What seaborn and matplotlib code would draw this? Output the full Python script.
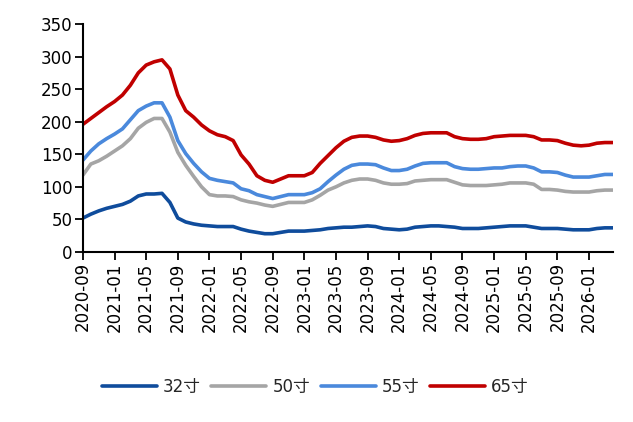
import matplotlib
matplotlib.use("Agg")
import matplotlib.pyplot as plt
import pandas as pd
import seaborn as sns

months = pd.period_range("2020-09", "2026-04", freq="M").strftime("%Y-%m").tolist()

size_32 = [52, 58, 63, 67, 70, 73, 78, 86, 89, 89, 90, 76, 52, 46, 43, 41, 40, 39, 39, 39,
           35, 32, 30, 28, 28, 30, 32, 32, 32, 33, 34, 36, 37, 38, 38, 39, 40, 39, 36, 35,
           34, 35, 38, 39, 40, 40, 39, 38, 36, 36, 36, 37, 38, 39, 40, 40, 40, 38, 36, 36,
           36, 35, 34, 34, 34, 36, 37, 37]
size_50 = [118, 135, 140, 147, 155, 163, 174, 190, 199, 205, 205, 184, 153, 133, 116, 100,
           88, 86, 86, 85, 80, 77, 75, 72, 70, 73, 76, 76, 76, 80, 87, 95, 100, 106, 110,
           112, 112, 110, 106, 104, 104, 105, 109, 110, 111, 111, 111, 107, 103, 102, 102,
           102, 103, 104, 106, 106, 106, 104, 96, 96, 95, 93, 92, 92, 92, 94, 95, 95]
size_55 = [141, 155, 166, 174, 181, 189, 203, 217, 224, 229, 229, 207, 171, 151, 136, 123,
           113, 110, 108, 106, 97, 94, 88, 85, 82, 85, 88, 88, 88, 91, 97, 108, 118, 127,
           133, 135, 135, 134, 129, 125, 125, 127, 132, 136, 137, 137, 137, 131, 128, 127,
           127, 128, 129, 129, 131, 132, 132, 129, 123, 123, 122, 118, 115, 115, 115, 117,
           119, 119]
size_65 = [196, 205, 214, 223, 231, 241, 256, 275, 287, 292, 295, 281, 241, 217, 207, 195,
           186, 180, 177, 171, 149, 135, 117, 110, 107, 112, 117, 117, 117, 122, 136, 148,
           160, 170, 176, 178, 178, 176, 172, 170, 171, 174, 179, 182, 183, 183, 183, 177,
           174, 173, 173, 174, 177, 178, 179, 179, 179, 177, 172, 172, 171, 167, 164, 163,
           164, 167, 168, 168]

series_names = ["32寸", "50寸", "55寸", "65寸"]
colors = ["#0F4C9C", "#A5A5A5", "#4A89DC", "#C00000"]

frames = []
for name, vals in zip(series_names, [size_32, size_50, size_55, size_65]):
    frames.append(pd.DataFrame({"idx": range(len(months)), "value": vals, "series": name}))
df = pd.concat(frames, ignore_index=True)

sns.set_theme(style="white")
plt.rcParams["font.family"] = ["DejaVu Sans", "Noto Sans CJK SC"]

fig = plt.figure(figsize=(6.33, 4.22), dpi=100)
ax = fig.add_axes([0.131, 0.403, 0.837, 0.54])

sns.lineplot(data=df, x="idx", y="value", hue="series", hue_order=series_names,
             palette=colors, linewidth=2.6, ax=ax, legend=True)

ax.set_xlim(0, len(months) - 1)
ax.set_ylim(0, 350)
ax.set_yticks(range(0, 351, 50))
tick_pos = list(range(0, len(months), 4))
ax.set_xticks(tick_pos)
ax.set_xticklabels([months[i] for i in tick_pos], rotation=90)
ax.set_xlabel("")
ax.set_ylabel("")

for side in ["top", "right"]:
    ax.spines[side].set_visible(False)
for side in ["left", "bottom"]:
    ax.spines[side].set_color("black")
    ax.spines[side].set_linewidth(1.5)
ax.tick_params(axis="both", direction="out", length=6, width=1.3, colors="black",
               labelsize=12, pad=1.5, bottom=True, left=True)

handles, labels = ax.get_legend_handles_labels()
ax.get_legend().remove()
fig.legend(handles, labels, loc="center", bbox_to_anchor=(0.498, 0.083), ncol=4,
           frameon=False, fontsize=12, handlelength=3.3, columnspacing=0.65,
           handletextpad=0.35)

fig.savefig("out.png", dpi=100)
